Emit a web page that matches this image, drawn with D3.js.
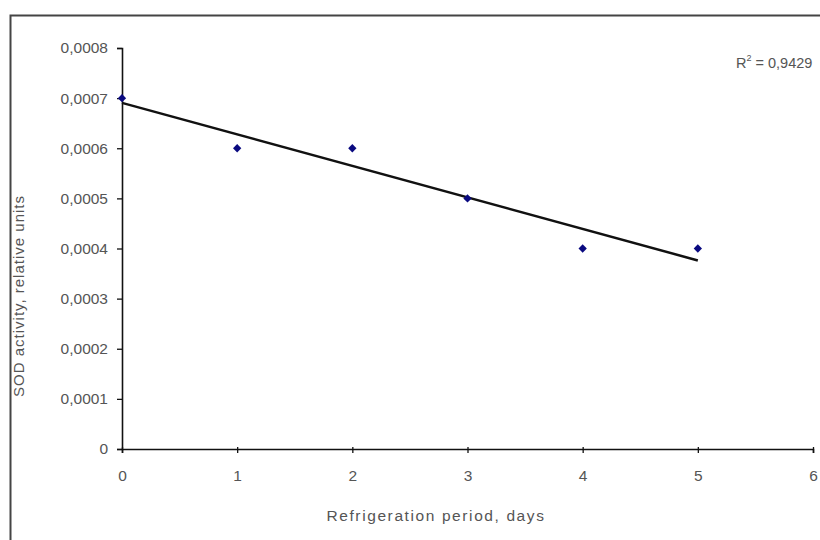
<!DOCTYPE html>
<html>
<head>
<meta charset="utf-8">
<script src="https://cdn.jsdelivr.net/npm/d3@7"></script>
<style>
  body { margin: 0; background: #fff; }
  svg text { font-family: "Liberation Sans", Arial, sans-serif; fill: #555; }
</style>
</head>
<body>
<svg width="820" height="540"></svg>
<script>
"use strict";

// data
const days = [0, 1, 2, 3, 4, 5];
const sod = [0.0007, 0.0006, 0.0006, 0.0005, 0.0004, 0.0004];
const xTicks = [0, 1, 2, 3, 4, 5, 6];
const yTicks = [0, 0.0001, 0.0002, 0.0003, 0.0004, 0.0005, 0.0006, 0.0007, 0.0008];
const rSquared = "0,9429";

const svg = d3.select("svg");
const width = +svg.attr("width");
const height = +svg.attr("height");
const margin = { top: 48, right: 5, bottom: 91, left: 122 };
const innerWidth = width - margin.left - margin.right;
const innerHeight = height - margin.top - margin.bottom;

// outer chart frame (runs off the right and bottom edge)
svg.append("rect")
  .attr("x", 10.5)
  .attr("y", 15.5)
  .attr("width", 830)
  .attr("height", 560)
  .attr("fill", "none")
  .attr("stroke", "#444")
  .attr("stroke-width", 2);

const g = svg.append("g")
  .attr("transform", `translate(${margin.left},${margin.top})`);

const xScale = d3.scaleLinear().domain([0, 6]).range([0, innerWidth - 2]);
const yScale = d3.scaleLinear().domain([0, 0.0008]).range([innerHeight, 0]);

const commaFmt = d => d === 0 ? "0" : d3.format(".4f")(d).replace(".", ",");

const yAxisG = g.append("g")
  .call(d3.axisLeft(yScale).tickValues(yTicks).tickSize(5).tickPadding(9).tickFormat(commaFmt));

const xAxisG = g.append("g")
  .attr("transform", `translate(0,${innerHeight})`)
  .call(d3.axisBottom(xScale).tickValues(xTicks).tickSize(4).tickPadding(17).tickFormat(d3.format("d")));

[yAxisG, xAxisG].forEach(a => {
  a.selectAll(".domain").attr("stroke", "#111").attr("stroke-width", 1.6);
  a.selectAll(".tick line").attr("stroke", "#111").attr("stroke-width", 1.3);
  a.selectAll(".tick text").style("font-size", "15.5px").attr("fill", "#505050");
});
xAxisG.selectAll(".tick line").attr("y1", -2);

// linear trend line (least squares fit of the data)
const mx = d3.mean(days);
const my = d3.mean(sod);
const slope = d3.sum(days, (x, i) => (x - mx) * (sod[i] - my)) / d3.sum(days, x => (x - mx) ** 2);
const intercept = my - slope * mx;
const x0 = d3.min(days), x1 = d3.max(days);

g.append("line")
  .attr("x1", xScale(x0))
  .attr("y1", yScale(intercept + slope * x0))
  .attr("x2", xScale(x1))
  .attr("y2", yScale(intercept + slope * x1))
  .attr("stroke", "#111")
  .attr("stroke-width", 2.5);

// diamond markers
g.selectAll(".dot")
  .data(days)
  .enter()
  .append("path")
  .attr("class", "dot")
  .attr("d", d3.symbol(d3.symbolDiamond2, 44))
  .attr("transform", (d, i) => `translate(${xScale(d)},${yScale(sod[i])})`)
  .attr("fill", "#0a0a80");

// R² label
const rText = svg.append("text")
  .attr("x", 736)
  .attr("y", 68)
  .style("font-size", "14.5px")
  .attr("fill", "#505050");
rText.append("tspan").text("R");
rText.append("tspan").attr("dy", -7).style("font-size", "9px").text("2");
rText.append("tspan").attr("dy", 7).text(" = " + rSquared);

// axis titles
svg.append("text")
  .attr("x", 436)
  .attr("y", 521)
  .attr("text-anchor", "middle")
  .style("font-size", "15.5px")
  .style("letter-spacing", "1.6px")
  .text("Refrigeration period, days");

svg.append("text")
  .attr("transform", `translate(24,296) rotate(-90)`)
  .attr("text-anchor", "middle")
  .style("font-size", "15px")
  .style("letter-spacing", "1px")
  .text("SOD activity, relative units");
</script>
</body>
</html>
